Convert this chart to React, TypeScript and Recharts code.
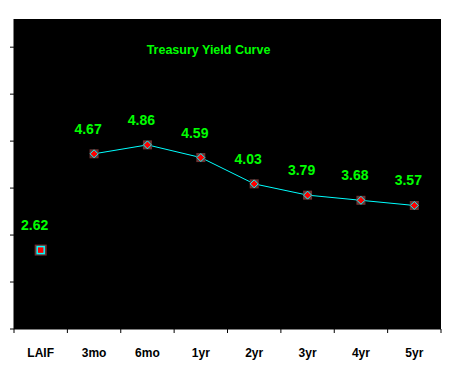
import React from 'react';
import { ComposedChart, Line, XAxis, YAxis, CartesianGrid, LabelList } from 'recharts';

const categories = ['LAIF', '3mo', '6mo', '1yr', '2yr', '3yr', '4yr', '5yr'];
const laifValues = [2.62];
const treasuryValues = [4.67, 4.86, 4.59, 4.03, 3.79, 3.68, 3.57];
const yTicks = [0.94, 1.94, 2.94, 3.94, 4.94, 5.94, 6.94];
const yDomain: [number, number] = [0.94, 7.54];
const boundaryTicks = [0, 1, 2, 3, 4, 5, 6, 7, 8];
const positions = [0.5, 1.5, 2.5, 3.5, 4.5, 5.5, 6.5, 7.5];
const title = 'Treasury Yield Curve';

const data = categories.map((c, i) => ({
  cat: c,
  pos: positions[i],
  laif: i === 0 ? laifValues[0] : null,
  treasury: i > 0 ? treasuryValues[i - 1] : null,
}));

const BROWN = '#6e3232';

const DiamondDot = (props: any) => {
  const { cx, cy, value, index } = props;
  if (value == null || cx == null || cy == null) return <g key={`d${index}`} />;
  return (
    <g key={`d${index}`}>
      <rect x={cx - 4.5} y={cy - 4.5} width={9} height={9} fill={BROWN} />
      <polygon
        points={`${cx},${cy - 4} ${cx + 4},${cy} ${cx},${cy + 4} ${cx - 4},${cy}`}
        fill="#ff0000"
        stroke="#00ffff"
        strokeWidth={1}
      />
    </g>
  );
};

const SquareDot = (props: any) => {
  const { cx, cy, value, index } = props;
  if (value == null || cx == null || cy == null) return <g key={`s${index}`} />;
  return (
    <g key={`s${index}`}>
      <rect x={cx - 6} y={cy - 5.5} width={12} height={11} fill={BROWN} />
      <rect x={cx - 3.5} y={cy - 3.5} width={7} height={7} fill="#ff0000" stroke="#00ffff" strokeWidth={1.5} />
    </g>
  );
};

const renderLabel = (props: any) => {
  const { x, y, value, index } = props;
  if (value == null || x == null || y == null) return null;
  return (
    <text
      key={`l${index}`}
      x={x - 6}
      y={y - 25}
      textAnchor="middle"
      dominantBaseline="central"
      fill="#00ff00"
      fontFamily="'Liberation Sans', Arial, sans-serif"
      fontWeight="bold"
      fontSize={14}
    >
      {value.toFixed(2)}
    </text>
  );
};

const EmptyTick = (props: any) => <g key={`t${props.index}`} />;

export default function App() {
  return (
    <div style={{ position: 'relative', width: 444, height: 375 }}>
      <ComposedChart
        width={444}
        height={375}
        data={data}
        margin={{ top: 11, right: 11, left: 0, bottom: 0 }}
      >
        <CartesianGrid xAxisId="a" fill="#000000" stroke="none" horizontal={false} vertical={false} />
        <XAxis
          xAxisId="a"
          type="number"
          dataKey="pos"
          domain={[0, 8]}
          ticks={boundaryTicks}
          allowDataOverflow
          tick={EmptyTick}
          tickSize={4}
          tickLine={{ stroke: '#000000' }}
          axisLine={{ stroke: '#000000' }}
          height={1}
        />
        <XAxis
          xAxisId="b"
          dataKey="cat"
          type="category"
          scale="band"
          axisLine={false}
          tickLine={false}
          tickSize={0}
          tickMargin={18}
          interval={0}
          height={53}
          tick={{ fill: '#000000', fontSize: 12, fontWeight: 'bold', fontFamily: "'Liberation Sans', Arial, sans-serif" }}
        />
        <YAxis
          type="number"
          domain={yDomain}
          ticks={yTicks}
          allowDataOverflow
          width={6}
          tick={EmptyTick}
          tickSize={4}
          tickLine={{ stroke: '#000000' }}
          axisLine={{ stroke: '#000000' }}
        />
        <Line
          xAxisId="b"
          dataKey="treasury"
          stroke="#00ffff"
          strokeWidth={1}
          dot={DiamondDot}
          activeDot={false}
          isAnimationActive={false}
        >
          <LabelList dataKey="treasury" content={renderLabel} />
        </Line>
        <Line
          xAxisId="b"
          dataKey="laif"
          stroke="none"
          dot={SquareDot}
          activeDot={false}
          isAnimationActive={false}
        >
          <LabelList dataKey="laif" content={renderLabel} />
        </Line>
      </ComposedChart>
      <div
        style={{
          position: 'absolute',
          left: 100,
          top: 35,
          width: 201,
          textAlign: 'center',
          color: '#00ff00',
          fontFamily: "'Liberation Sans', Arial, sans-serif",
          fontWeight: 'bold',
          fontSize: 12.5,
          lineHeight: '15px',
          pointerEvents: 'none',
        }}
      >
        {title}
      </div>
    </div>
  );
}
